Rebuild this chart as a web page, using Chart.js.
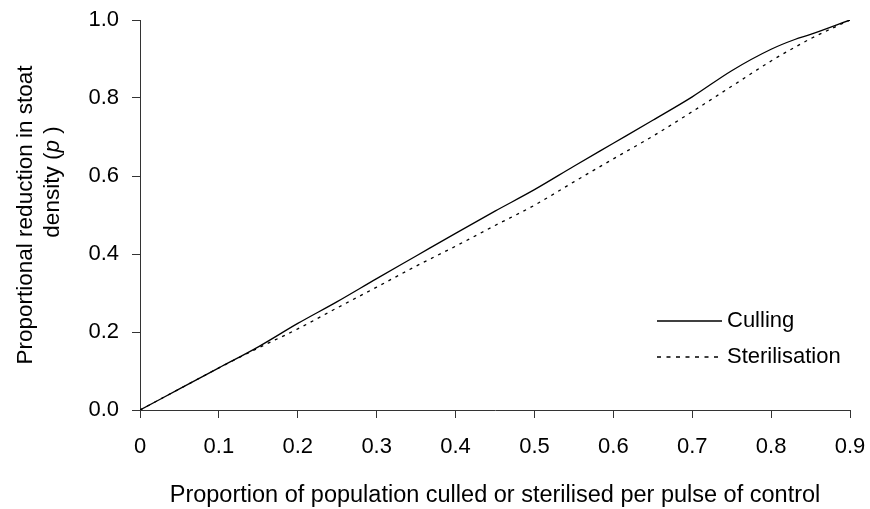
<!DOCTYPE html>
<html>
<head>
<meta charset="utf-8">
<script src="https://cdn.jsdelivr.net/npm/chart.js@4/dist/chart.umd.min.js"></script>
<style>
  html, body { margin: 0; padding: 0; background: #fff; }
  #wrap { width: 870px; height: 509px; }
</style>
</head>
<body>
<div id="wrap"><canvas id="myChart" width="870" height="509"></canvas></div>
<script>
// дані
const xValues = [0, 0.05, 0.1, 0.15, 0.2, 0.25, 0.3, 0.35, 0.4, 0.45, 0.5, 0.55, 0.6, 0.65, 0.7, 0.75, 0.8, 0.83, 0.85, 0.9];
const culling = [0, 0.054, 0.108, 0.162, 0.222, 0.278, 0.337, 0.395, 0.453, 0.51, 0.565, 0.625, 0.684, 0.743, 0.803, 0.87, 0.925, 0.95, 0.963, 1.0];
const sterilisation = [0, 0.054, 0.108, 0.159, 0.208, 0.262, 0.315, 0.369, 0.42, 0.473, 0.525, 0.585, 0.644, 0.702, 0.765, 0.83, 0.895, 0.93, 0.952, 1.0];
const seriesNames = ['Culling', 'Sterilisation'];
const xTicks = [0, 0.1, 0.2, 0.3, 0.4, 0.5, 0.6, 0.7, 0.8, 0.9];
const yTicks = [0, 0.2, 0.4, 0.6, 0.8, 1.0];

const FONT = "'Liberation Sans', Arial, sans-serif";

function toPoints(ys) {
  return xValues.map((x, i) => ({ x: x, y: ys[i] }));
}

// щоб підписи тіків не зсували область графіка
function noOverflow(scale) {
  scale.paddingTop = 0;
  scale.paddingBottom = 0;
  scale.paddingLeft = 0;
  scale.paddingRight = 0;
}

// підписи осей малюємо самі (курсивне p)
const axisTitles = {
  id: 'axisTitles',
  afterDraw(chart) {
    const c = chart.ctx;
    const area = chart.chartArea;
    c.save();
    c.fillStyle = '#000';
    c.textBaseline = 'alphabetic';

    c.font = '23.5px ' + FONT;
    c.textAlign = 'center';
    c.fillText('Proportion of population culled or sterilised per pulse of control', (area.left + area.right) / 2, 502);

    c.rotate(-Math.PI / 2);
    c.font = '22.5px ' + FONT;
    c.fillText('Proportional reduction in stoat', -215, 32);

    const parts = [['density (', 'normal'], ['p', 'italic'], [' )', 'normal']];
    let total = 0;
    parts.forEach(p => { c.font = p[1] + ' 22.5px ' + FONT; total += c.measureText(p[0]).width; });
    let x = -182 - total / 2;
    c.textAlign = 'left';
    parts.forEach(p => {
      c.font = p[1] + ' 22.5px ' + FONT;
      c.fillText(p[0], x, 59);
      x += c.measureText(p[0]).width;
    });
    c.restore();
  }
};

// легенда всередині графіка
const innerLegend = {
  id: 'innerLegend',
  afterDraw(chart) {
    const c = chart.ctx;
    const rows = [321, 357];
    c.save();
    chart.data.datasets.forEach((ds, i) => {
      const y = rows[i];
      c.strokeStyle = ds.borderColor;
      c.lineWidth = ds.borderWidth;
      c.setLineDash(ds.borderDash ? [4, 5.5] : []);
      c.beginPath();
      c.moveTo(657, y);
      c.lineTo(722, y);
      c.stroke();
      c.setLineDash([]);
      c.fillStyle = '#000';
      c.font = '22px ' + FONT;
      c.textAlign = 'left';
      c.textBaseline = 'middle';
      c.fillText(ds.label, 727, y);
    });
    c.restore();
  }
};

const ctx = document.getElementById('myChart').getContext('2d');

let myChart = new Chart(ctx, {
  type: 'line',
  data: {
    datasets: [{
      label: seriesNames[0],
      data: toPoints(culling),
      borderColor: '#000',
      borderWidth: 1.3,
      pointRadius: 0,
      cubicInterpolationMode: 'monotone',
      fill: false
    }, {
      label: seriesNames[1],
      data: toPoints(sterilisation),
      borderColor: '#000',
      borderWidth: 1.3,
      borderDash: [3, 5],
      pointRadius: 0,
      cubicInterpolationMode: 'monotone',
      fill: false
    }]
  },
  options: {
    responsive: false,
    animation: false,
    layout: { padding: { top: 20, right: 20, left: 0, bottom: 0 } },
    plugins: {
      legend: { display: false },
      tooltip: { enabled: false }
    },
    scales: {
      x: {
        type: 'linear',
        min: 0,
        max: 0.9,
        afterFit(scale) { scale.height = 99; noOverflow(scale); },
        afterBuildTicks(scale) { scale.ticks = xTicks.map(v => ({ value: v })); },
        ticks: {
          color: '#000',
          font: { size: 22, family: FONT },
          padding: 16,
          maxRotation: 0,
          callback: v => v === 0 ? '0' : v.toFixed(1)
        },
        grid: { drawOnChartArea: false, drawTicks: true, tickLength: 8, color: '#333' },
        border: { display: true, color: '#333', width: 1 }
      },
      y: {
        min: 0,
        max: 1,
        afterFit(scale) { scale.width = 140; noOverflow(scale); },
        afterBuildTicks(scale) { scale.ticks = yTicks.map(v => ({ value: v })); },
        ticks: {
          color: '#000',
          font: { size: 22, family: FONT },
          padding: 13,
          callback: v => v.toFixed(1)
        },
        grid: { drawOnChartArea: false, drawTicks: true, tickLength: 8, color: '#333' },
        border: { display: true, color: '#333', width: 1 }
      }
    }
  },
  plugins: [axisTitles, innerLegend]
});
</script>
</body>
</html>
